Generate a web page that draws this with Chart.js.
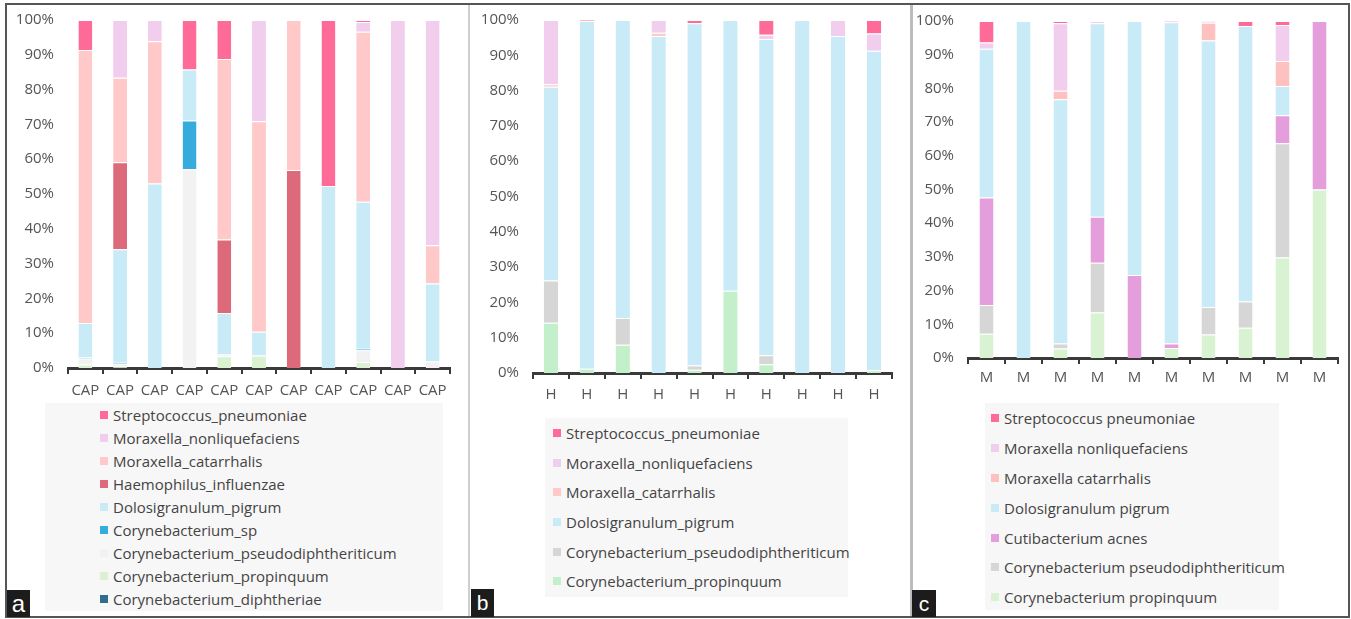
<!DOCTYPE html>
<html>
<head>
<meta charset="utf-8">
<title>Nasopharyngeal microbiota composition</title>
<script src="https://cdn.jsdelivr.net/npm/chart.js@4.4.1/dist/chart.umd.min.js"></script>
<style>
  html, body { margin: 0; padding: 0; background: #fff; }
  body { width: 1351px; height: 619px; position: relative; overflow: hidden; font-family: 'Open Sans', sans-serif; }
  .frame { position: absolute; left: 5px; top: 3px; width: 1341px; height: 611px; border: 2px solid #555; }
  .sep { position: absolute; top: 5px; height: 611px; }
  canvas { position: absolute; }
  .legend { position: absolute; background: #f7f7f7; color: #444; font-size: 15px; }
  .legend .item { display: flex; align-items: center; white-space: nowrap; }
  .legend .sw { width: 8px; height: 8px; margin-right: 5px; flex: none; }
  .tag { position: absolute; background: #1c1c1c; color: #fff; font-family: 'Liberation Sans', Arial, sans-serif;
         display: flex; align-items: center; justify-content: center; }
</style>
</head>
<body>
<div class="frame"></div>
<div class="sep" style="left:468px;width:2px;background:#cfcfcf"></div>
<div class="sep" style="left:910px;width:3px;background:#bdbdbd"></div>

<canvas id="chartA" width="452" height="394" style="left:8px;top:6px"></canvas>
<canvas id="chartB" width="433" height="400" style="left:472px;top:6px"></canvas>
<canvas id="chartC" width="430" height="394" style="left:914px;top:6px"></canvas>

<div id="legendA" class="legend" style="left:45px;top:403px;width:398px;height:208px;padding-left:55px;box-sizing:border-box"></div>
<div id="legendB" class="legend" style="left:545px;top:418px;width:303px;height:179px;padding-left:8px;box-sizing:border-box"></div>
<div id="legendC" class="legend" style="left:985px;top:403px;width:294px;height:207px;padding-left:6px;box-sizing:border-box"></div>

<div class="tag" style="left:7px;top:590px;width:23px;height:27px;font-size:24px">a</div>
<div class="tag" style="left:471px;top:589px;width:23px;height:28px;font-size:21px">b</div>
<div class="tag" style="left:912px;top:590px;width:24px;height:27px;font-size:21px">c</div>

<script>
// ---- sample labels ----
const capLabels = ['CAP', 'CAP', 'CAP', 'CAP', 'CAP', 'CAP', 'CAP', 'CAP', 'CAP', 'CAP', 'CAP'];
const hLabels   = ['H', 'H', 'H', 'H', 'H', 'H', 'H', 'H', 'H', 'H'];
const mLabels   = ['M', 'M', 'M', 'M', 'M', 'M', 'M', 'M', 'M', 'M'];
const yTicks    = [0, 10, 20, 30, 40, 50, 60, 70, 80, 90, 100];

// ---- (a) CAP samples, relative abundance %, bottom of stack first ----
const capDiphtheriae   = [0, 0, 0, 0, 0, 0, 0, 0, 0, 0, 0];
const capPropinquum    = [1.0, 0.5, 0, 0, 3.4, 3.6, 0, 0, 1.7, 0, 0];
const capPseudodiph    = [1.7, 0.7, 0, 57.1, 0.5, 0, 0, 0, 3.4, 0, 1.9];
const capCorySp        = [0.3, 0.3, 0, 14.0, 0, 0, 0, 0, 0.4, 0, 0];
const capPigrum        = [9.9, 32.6, 53.0, 14.7, 11.9, 6.8, 0, 52.3, 42.3, 0, 22.4];
const capHaemophilus   = [0, 25.0, 0, 0, 21.1, 0, 56.9, 0, 0, 0, 0];
const capCatarrhalis   = [78.5, 24.3, 40.9, 0, 51.9, 60.5, 43.1, 0, 48.8, 0, 11.0];
const capNonliq        = [0, 16.6, 6.1, 0, 0, 29.1, 0, 0, 2.8, 100, 64.7];
const capStrep         = [8.6, 0, 0, 14.2, 11.2, 0, 0, 47.7, 0.6, 0, 0];

// ---- (b) H samples ----
const hPropinquum  = [14.2, 1.2, 8.0, 0, 0.9, 23.3, 2.5, 0, 0, 0.8];
const hPseudodiph  = [12.0, 0, 7.6, 0, 1.2, 0, 2.5, 0, 0, 0];
const hPigrum      = [54.9, 98.5, 84.4, 95.5, 97.0, 76.7, 89.6, 100, 95.5, 90.5];
const hCatarrhalis = [0.7, 0, 0, 0.9, 0, 0, 0, 0, 0, 0];
const hNonliq      = [18.2, 0, 0, 3.6, 0, 0, 1.2, 0, 4.5, 4.9];
const hStrep       = [0, 0.3, 0, 0, 0.9, 0, 4.2, 0, 0, 3.8];

// ---- (c) M samples ----
const mPropinquum  = [7.2, 0, 2.8, 13.5, 0, 3.0, 7.0, 9.0, 29.8, 50.0];
const mPseudodiph  = [8.5, 0, 1.5, 14.8, 0, 0, 8.1, 7.8, 33.9, 0];
const mAcnes       = [31.9, 0, 0, 13.6, 24.6, 1.3, 0, 0, 8.3, 50.0];
const mPigrum      = [44.2, 100, 72.5, 57.4, 75.4, 95.3, 79.1, 81.7, 8.7, 0];
const mCatarrhalis = [0, 0, 2.5, 0, 0, 0, 5.3, 0, 7.4, 0];
const mNonliq      = [1.8, 0, 20.0, 0.7, 0, 0, 0.5, 0, 10.7, 0];
const mStrep       = [6.4, 0, 0.7, 0, 0, 0.4, 0, 1.5, 1.2, 0];

const C = {
  strep: '#ff6b98', nonliq: '#f1cdee', cat: '#ffc9c9', catC: '#ffc0c0', haem: '#dc6a7b',
  pigrum: '#c9ebf8', corySp: '#35acdc', pseudoA: '#f2f2f2', pseudo: '#d6d6d6',
  propA: '#daf1d2', propB: '#c3efca', propC: '#d9f2d2', diph: '#2f6e8c', acnes: '#e49edc'
};

Chart.defaults.font.family = "'Open Sans', sans-serif";
Chart.defaults.animation = false;

function ds(label, data, color) {
  return { label, data, backgroundColor: color, borderColor: '#fff',
           borderWidth: { top: 1, bottom: 0, left: 0, right: 0 } };
}

function makeChart(id, labels, datasets, o) {
  return new Chart(document.getElementById(id), {
    type: 'bar',
    data: { labels, datasets },
    options: {
      responsive: false,
      categoryPercentage: 1,
      barPercentage: o.bar,
      layout: { padding: { top: o.top, right: o.right, bottom: 0, left: 0 } },
      plugins: { legend: { display: false }, tooltip: { enabled: false } },
      scales: {
        x: {
          stacked: true,
          grid: { display: true, drawOnChartArea: false, drawTicks: true, tickLength: 6,
                  color: '#3a3a3a', lineWidth: 2, offset: true },
          border: { display: true, color: '#3a3a3a', width: 3 },
          ticks: { color: '#555', font: { size: 15 }, padding: o.xPad, maxRotation: 0, autoSkip: false },
          afterFit: s => { s.height = o.xHeight; }
        },
        y: {
          stacked: true,
          min: 0, max: 100,
          afterBuildTicks: s => { s.ticks = yTicks.map(v => ({ value: v })); },
          grid: { display: false, drawTicks: false },
          border: { display: false },
          ticks: { color: '#555', font: { size: 15 }, padding: o.yPad, callback: v => v + '%' },
          // fixed axis width; top/bottom spacing comes from layout padding only
          afterFit: s => { s.width = o.yWidth; s.paddingTop = 0; s.paddingBottom = 0; }
        }
      }
    }
  });
}

// legend listed top of stack first, one entry per row
function buildLegend(elId, datasets, rowH) {
  const el = document.getElementById(elId);
  datasets.slice().reverse().forEach(d => {
    const row = document.createElement('div');
    row.className = 'item';
    row.style.height = rowH + 'px';
    const sw = document.createElement('span');
    sw.className = 'sw';
    sw.style.background = d.backgroundColor;
    const tx = document.createElement('span');
    tx.textContent = d.label;
    row.append(sw, tx);
    el.appendChild(row);
  });
}

const setA = [
  ds('Corynebacterium_diphtheriae', capDiphtheriae, C.diph),
  ds('Corynebacterium_propinquum', capPropinquum, C.propA),
  ds('Corynebacterium_pseudodiphtheriticum', capPseudodiph, C.pseudoA),
  ds('Corynebacterium_sp', capCorySp, C.corySp),
  ds('Dolosigranulum_pigrum', capPigrum, C.pigrum),
  ds('Haemophilus_influenzae', capHaemophilus, C.haem),
  ds('Moraxella_catarrhalis', capCatarrhalis, C.cat),
  ds('Moraxella_nonliquefaciens', capNonliq, C.nonliq),
  ds('Streptococcus_pneumoniae', capStrep, C.strep)
];

const setB = [
  ds('Corynebacterium_propinquum', hPropinquum, C.propB),
  ds('Corynebacterium_pseudodiphtheriticum', hPseudodiph, C.pseudo),
  ds('Dolosigranulum_pigrum', hPigrum, C.pigrum),
  ds('Moraxella_catarrhalis', hCatarrhalis, C.cat),
  ds('Moraxella_nonliquefaciens', hNonliq, C.nonliq),
  ds('Streptococcus_pneumoniae', hStrep, C.strep)
];

const setC = [
  ds('Corynebacterium propinquum', mPropinquum, C.propC),
  ds('Corynebacterium pseudodiphtheriticum', mPseudodiph, C.pseudo),
  ds('Cutibacterium acnes', mAcnes, C.acnes),
  ds('Dolosigranulum pigrum', mPigrum, C.pigrum),
  ds('Moraxella catarrhalis', mCatarrhalis, C.catC),
  ds('Moraxella nonliquefaciens', mNonliq, C.nonliq),
  ds('Streptococcus pneumoniae', mStrep, C.strep)
];

makeChart('chartA', capLabels, setA, { bar: 0.4, top: 14, right: 10, yWidth: 60, yPad: 14, xHeight: 32, xPad: 8 });
makeChart('chartB', hLabels, setB, { bar: 0.4, top: 14, right: 13, yWidth: 61, yPad: 14, xHeight: 33, xPad: 7 });
makeChart('chartC', mLabels, setC, { bar: 0.38, top: 15, right: 6, yWidth: 54, yPad: 14, xHeight: 42, xPad: 5 });

buildLegend('legendA', setA, 23);
buildLegend('legendB', setB, 29.7);
buildLegend('legendC', setC, 29.9);
</script>
</body>
</html>
